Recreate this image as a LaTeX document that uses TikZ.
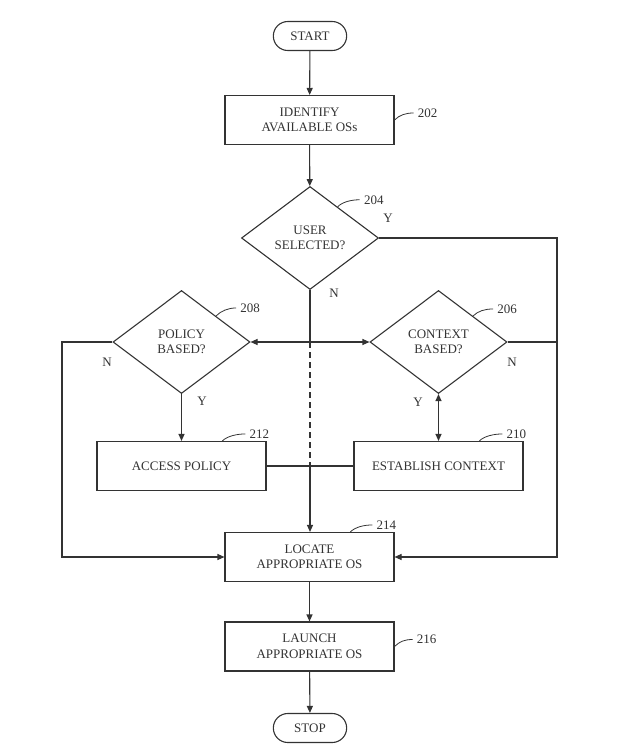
\documentclass[tikz,border=0pt]{standalone}
\usepackage{fontspec}
\setmainfont{Liberation Serif}
\usetikzlibrary{arrows.meta, shapes.geometric, shapes.misc, calc}
\usetikzlibrary{positioning}

\begin{document}
\begin{tikzpicture}[x=1pt, y=-1pt, font=\fontsize{13}{15.5}\selectfont, text=black!80,
    line/.style={draw=black!80, line width=1.1pt},
    arr/.style={line, -{Triangle[length=7pt,width=6pt]}},
    dblarr/.style={line, {Triangle[length=7pt,width=6pt]}-{Triangle[length=7pt,width=6pt]}},
    proc/.style={draw=black!80, line width=1.1pt, minimum width=169pt, minimum height=49pt, align=center, inner sep=2pt},
    decision/.style={diamond, aspect=1.33, draw=black!80, line width=1.1pt, minimum width=137pt, minimum height=103pt, inner sep=0pt, align=center},
    term/.style={rounded rectangle, draw=black!80, line width=1.1pt, minimum width=80pt, minimum height=29pt},
    lead/.style={draw=black!80, line width=0.8pt},
    refnum/.style={inner sep=2pt}]
    \useasboundingbox (0,0) rectangle (640,750);
    % blocs
    \node[term] (start) at (310,36) {START};
    \node[proc] (b202) at (309.5,120) {IDENTIFY\\AVAILABLE OSs};
    \node[decision] (d204) at (310,238) {USER\\SELECTED?};
    \node[decision] (d208) at (181.5,342) {POLICY\\BASED?};
    \node[decision] (d206) at (438.5,342) {CONTEXT\\BASED?};
    \node[proc] (b212) at (181.5,466) {ACCESS POLICY};
    \node[proc] (b210) at (438.5,466) {ESTABLISH CONTEXT};
    \node[proc] (b214) at (309.5,557) {LOCATE\\APPROPRIATE OS};
    \node[proc] (b216) at (309.5,646.5) {LAUNCH\\APPROPRIATE OS};
    \node[term] (stop) at (310,728) {STOP};
    % side rails
    \coordinate (lx) at (62,0);
    \coordinate (rx) at (557,0);
    \coordinate (mid) at (d204.south |- d208.east);
    \coordinate (cross) at (d204.south |- b212.east);
    % main flow
    \draw[arr] (start) -- (b202);
    \draw[arr] (b202) -- (d204);
    \draw[arr] (d204.east) -- (d204.east -| rx) |- (b214.east);
    \draw[line] (d206.east) -- (d206.east -| rx);
    \draw[arr] (d208.west) -- (d208.west -| lx) |- (b214.west);
    \draw[line] (d204.south) -- (mid);
    \draw[line, dash pattern=on 6pt off 4pt] (mid) -- (cross);
    \draw[arr] (cross) -- (cross |- b214.north);
    \draw[arr] (mid) -- (d208.east);
    \draw[arr] (mid) -- (d206.west);
    \draw[arr] (d208.south) -- (b212.north);
    \draw[dblarr] (d206.south) -- (b210.north);
    \draw[line] (b212.east) -- (b210.west);
    \draw[arr] (b214) -- (b216);
    \draw[arr] (b216) -- (stop);
    % Y / N
    \node (y204) at (388,218) {Y};
    \node (n204) at (334,293) {N};
    \node (n208) at (107,362) {N};
    \node (y208) at (202,401) {Y};
    \node (n206) at (512,362) {N};
    \node (y206) at (418,402) {Y};
    % reference numerals
    \draw[lead] (b202.east) .. controls +(5,-5) and +(-8,0) .. +(19,-7) node[right=2pt, refnum] (r202) {202};
    \draw[lead] ($(d204.north)!0.4!(d204.east)$) .. controls +(5,-5) and +(-8,0) .. +(22,-7) node[right=2pt, refnum] (r204) {204};
    \draw[lead] ($(d208.north)!0.5!(d208.east)$) .. controls +(5,-5) and +(-8,0) .. +(20,-8) node[right=2pt, refnum] (r208) {208};
    \draw[lead] ($(d206.north)!0.5!(d206.east)$) .. controls +(5,-5) and +(-8,0) .. +(20,-7) node[right=2pt, refnum] (r206) {206};
    \draw[lead] ($(b212.north)!0.48!(b212.north east)$) .. controls +(5,-5) and +(-8,0) .. +(23,-7) node[right=2pt, refnum] (r212) {212};
    \draw[lead] ($(b210.north)!0.48!(b210.north east)$) .. controls +(5,-5) and +(-8,0) .. +(23,-7) node[right=2pt, refnum] (r210) {210};
    \draw[lead] ($(b214.north)!0.48!(b214.north east)$) .. controls +(5,-5) and +(-8,0) .. +(22,-7) node[right=2pt, refnum] (r214) {214};
    \draw[lead] (b216.east) .. controls +(5,-5) and +(-8,0) .. +(18,-7) node[right=2pt, refnum] (r216) {216};
\end{tikzpicture}
\end{document}
